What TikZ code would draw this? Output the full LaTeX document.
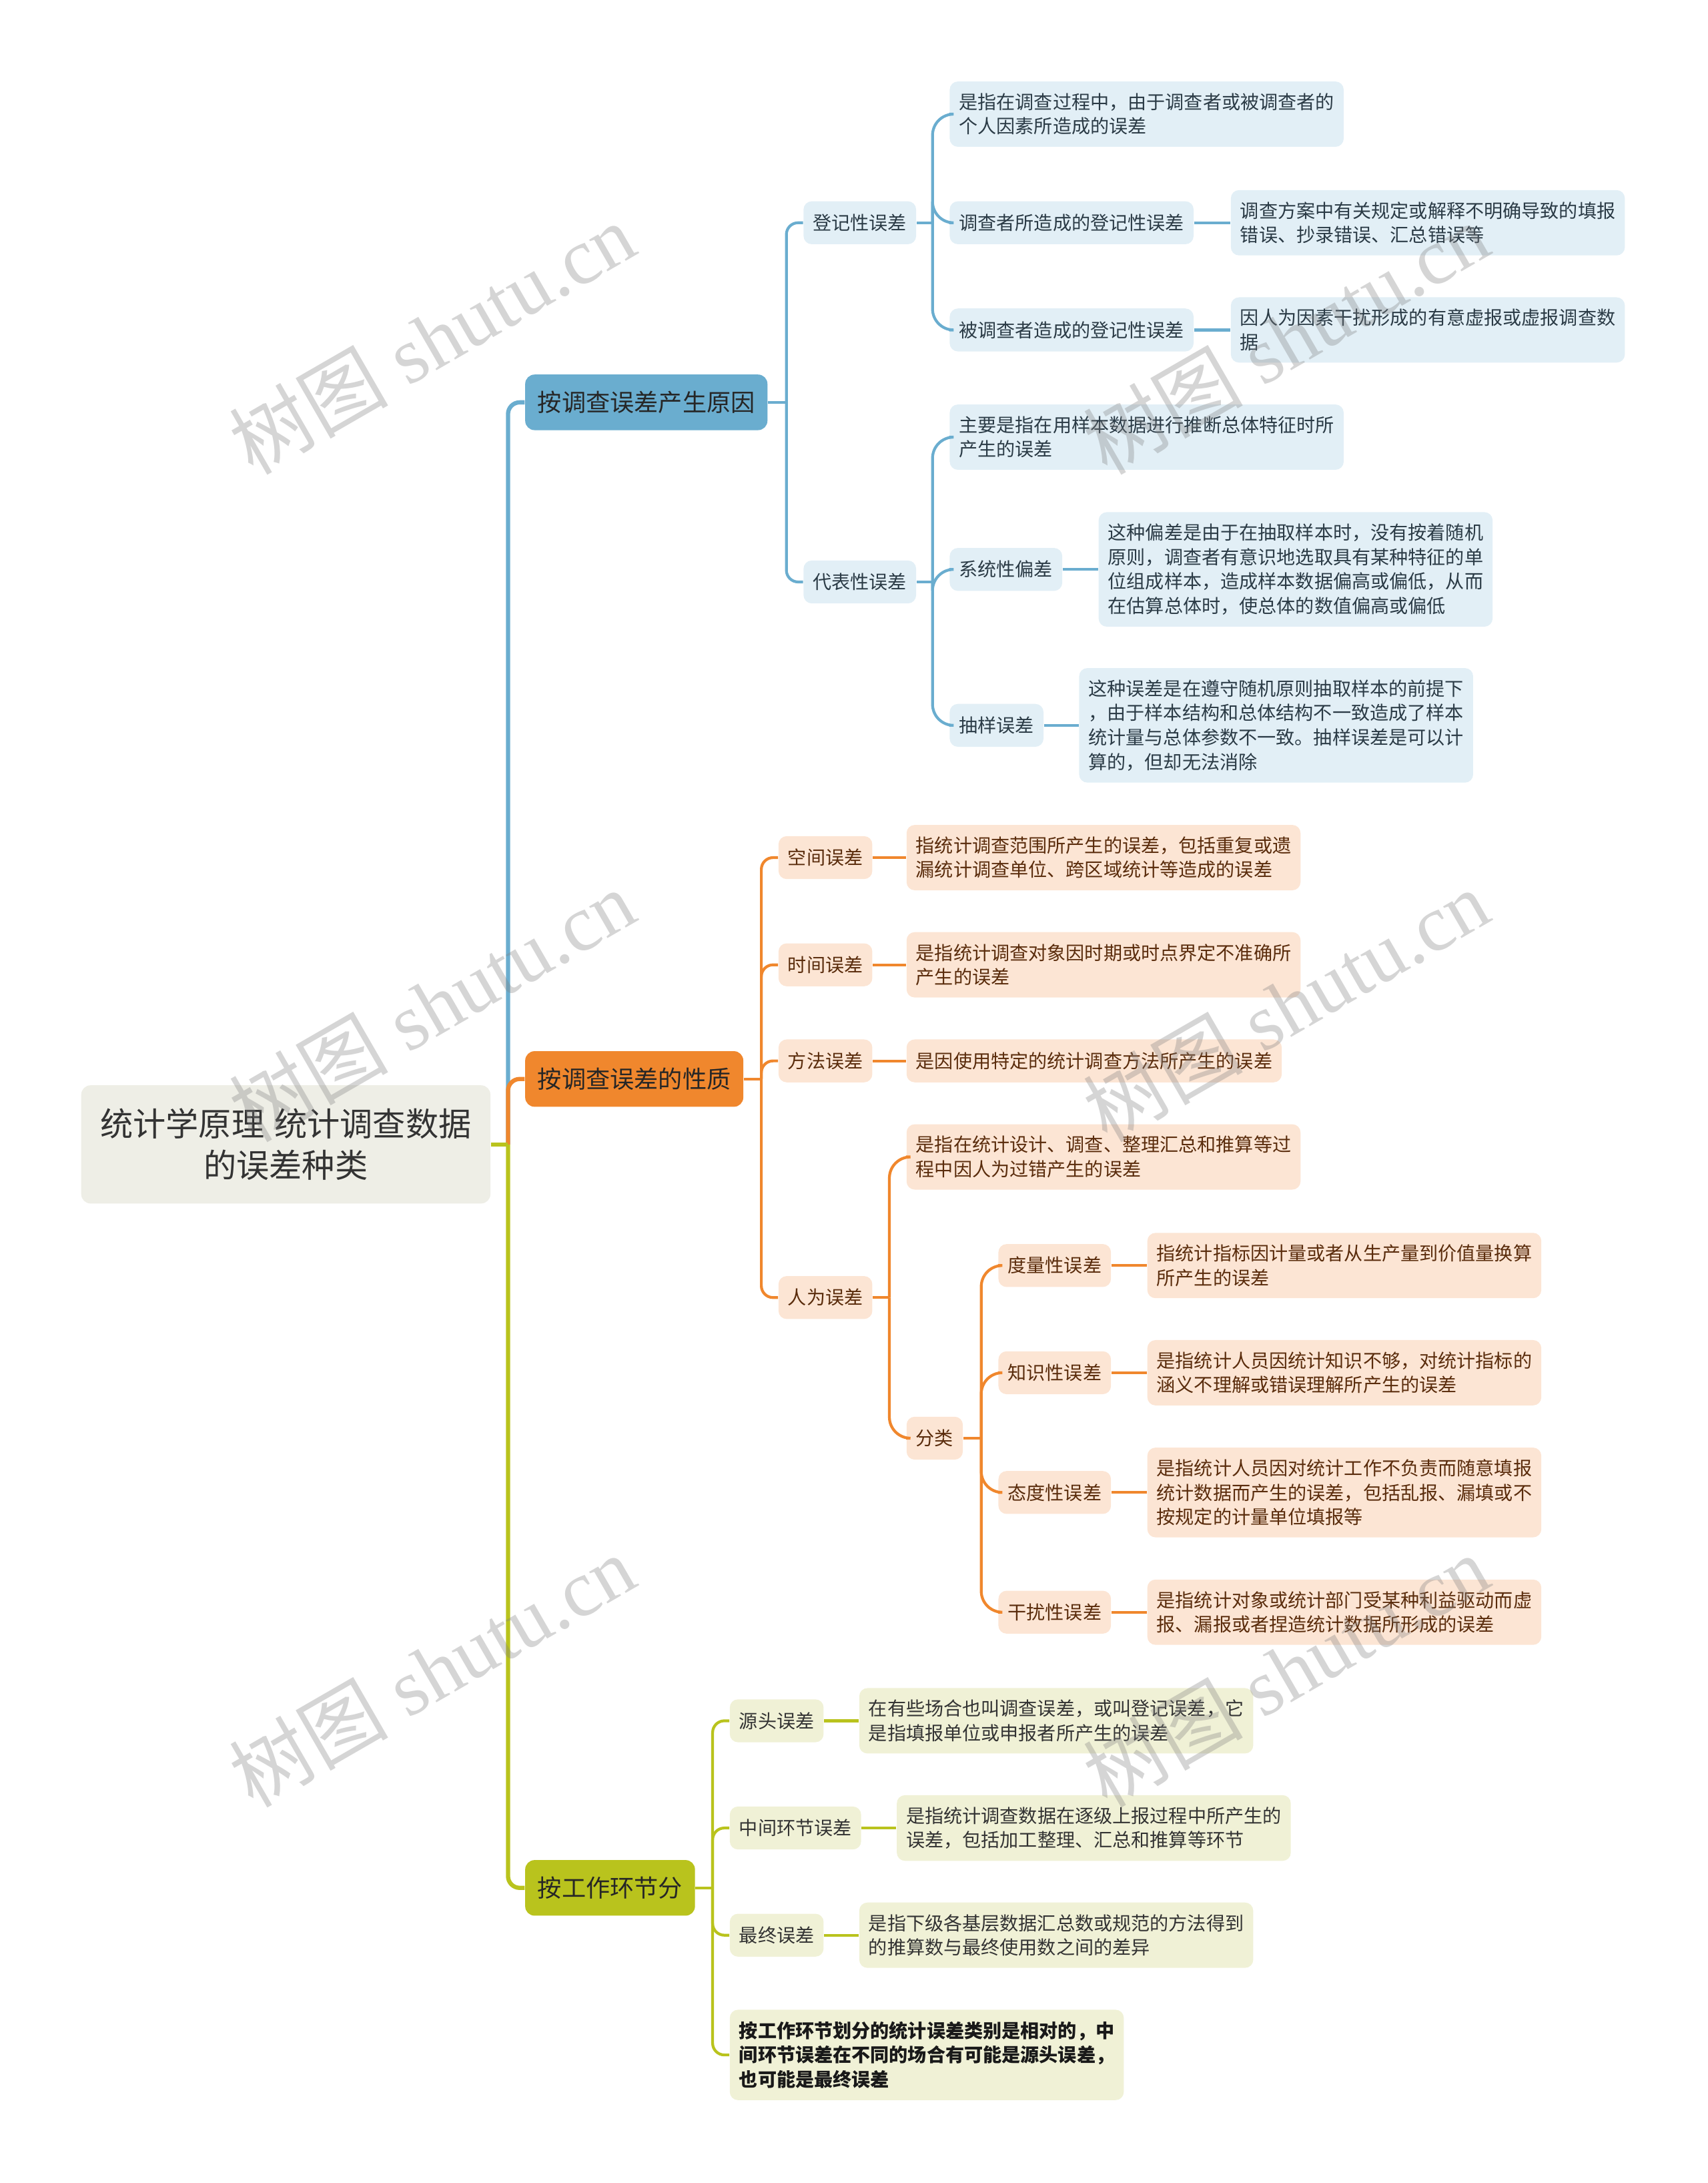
\documentclass[tikz,border=0pt]{standalone}
\usepackage{fontspec}
\newfontfamily\cjk{Noto Sans CJK SC}
\newfontfamily\wmserif{Liberation Serif}
\definecolor{bluel}{HTML}{6AADCF}
\definecolor{bluef}{HTML}{E2EFF6}
\definecolor{bluet}{HTML}{2B3B46}
\definecolor{orgl}{HTML}{F0872D}
\definecolor{orgf}{HTML}{FCE5D4}
\definecolor{orgt}{HTML}{5A2C0C}
\definecolor{ylwl}{HTML}{B9C31D}
\definecolor{ylwf}{HTML}{F0F1D6}
\definecolor{ylwt}{HTML}{333333}
\definecolor{rootf}{HTML}{EEEEE6}

\begin{document}
\begin{tikzpicture}[x=0.020864cm, y=-0.020864cm]
    \tikzstyle{every node}=[font=\cjk\fontsize{8}{10.4}\selectfont, rounded corners=3.5pt, inner xsep=4pt, inner ysep=5pt, align=left, anchor=west]
    \tikzstyle{rootbox}=[fill=rootf, text=black!80, font=\cjk\fontsize{14}{17.8}\selectfont, align=center, minimum width=174.5pt, minimum height=50.4pt, rounded corners=4pt]
    \tikzstyle{topic}=[font=\cjk\fontsize{10.3}{12}\selectfont, text=black!85, minimum height=23.7pt, inner xsep=5.3pt, rounded corners=4pt]
    \tikzstyle{leaf}=[minimum height=18.3pt]
    \tikzstyle{bnode}=[fill=bluef, text=bluet]
    \tikzstyle{onode}=[fill=orgf, text=orgt]
    \tikzstyle{ynode}=[fill=ylwf, text=ylwt]
    \tikzstyle{bline}=[draw=bluel, line width=1.2pt, rounded corners=5pt]
    \tikzstyle{oline}=[draw=orgl, line width=1.2pt, rounded corners=5pt]
    \tikzstyle{yline}=[draw=ylwl, line width=1.2pt, rounded corners=5pt]
    \tikzstyle{wmark}=[anchor=center, rotate=30, inner sep=0pt, text=black!50, text opacity=0.33, font=\wmserif\fontsize{34}{34}\selectfont]

    \useasboundingbox (0,0) rectangle (1227,1568);

    \node[rootbox] (root) at (58,822) {统计学原理\hspace{0.3em}统计调查数据\\的误差种类};
    \node[topic, fill=bluel] (cause) at (377,289) {按调查误差产生原因};
    \node[topic, fill=orgl] (nature) at (377,775) {按调查误差的性质};
    \node[topic, fill=ylwl] (stage) at (377,1356) {按工作环节分};

    \node[bnode, leaf] (reg) at (577,160) {登记性误差};
    \node[bnode, leaf] (rep) at (577,418) {代表性误差};
    \node[bnode] (reg0) at (682,82) {是指在调查过程中，由于调查者或被调查者的\\个人因素所造成的误差};
    \node[bnode, leaf] (reg1) at (682,160) {调查者所造成的登记性误差};
    \node[bnode, leaf] (reg2) at (682,237) {被调查者造成的登记性误差};
    \node[bnode] (reg1d) at (884,160) {调查方案中有关规定或解释不明确导致的填报\\错误、抄录错误、汇总错误等};
    \node[bnode] (reg2d) at (884,237) {因人为因素干扰形成的有意虚报或虚报调查数\\据};
    \node[bnode] (rep0) at (682,314) {主要是指在用样本数据进行推断总体特征时所\\产生的误差};
    \node[bnode, leaf] (rep1) at (682,409) {系统性偏差};
    \node[bnode, leaf] (rep2) at (682,521) {抽样误差};
    \node[bnode] (rep1d) at (789,409) {这种偏差是由于在抽取样本时，没有按着随机\\原则，调查者有意识地选取具有某种特征的单\\位组成样本，造成样本数据偏高或偏低，从而\\在估算总体时，使总体的数值偏高或偏低};
    \node[bnode] (rep2d) at (775,521) {这种误差是在遵守随机原则抽取样本的前提下\\，由于样本结构和总体结构不一致造成了样本\\统计量与总体参数不一致。抽样误差是可以计\\算的，但却无法消除};

    \node[onode, leaf] (space) at (559,616) {空间误差};
    \node[onode, leaf] (time) at (559,693) {时间误差};
    \node[onode, leaf] (method) at (559,762) {方法误差};
    \node[onode, leaf] (human) at (559,932) {人为误差};
    \node[onode] (spaced) at (651,616) {指统计调查范围所产生的误差，包括重复或遗\\漏统计调查单位、跨区域统计等造成的误差};
    \node[onode] (timed) at (651,693) {是指统计调查对象因时期或时点界定不准确所\\产生的误差};
    \node[onode, leaf] (methodd) at (651,762) {是因使用特定的统计调查方法所产生的误差};
    \node[onode] (humand) at (651,831) {是指在统计设计、调查、整理汇总和推算等过\\程中因人为过错产生的误差};
    \node[onode, leaf] (kind) at (651,1033) {分类};
    \node[onode, leaf] (kind1) at (717,909) {度量性误差};
    \node[onode, leaf] (kind2) at (717,986) {知识性误差};
    \node[onode, leaf] (kind3) at (717,1072) {态度性误差};
    \node[onode, leaf] (kind4) at (717,1158) {干扰性误差};
    \node[onode] (kind1d) at (824,909) {指统计指标因计量或者从生产量到价值量换算\\所产生的误差};
    \node[onode] (kind2d) at (824,986) {是指统计人员因统计知识不够，对统计指标的\\涵义不理解或错误理解所产生的误差};
    \node[onode] (kind3d) at (824,1072) {是指统计人员因对统计工作不负责而随意填报\\统计数据而产生的误差，包括乱报、漏填或不\\按规定的计量单位填报等};
    \node[onode] (kind4d) at (824,1158) {是指统计对象或统计部门受某种利益驱动而虚\\报、漏报或者捏造统计数据所形成的误差};

    \node[ynode, leaf] (src) at (524,1236) {源头误差};
    \node[ynode, leaf] (mid) at (524,1313) {中间环节误差};
    \node[ynode, leaf] (fin) at (524,1390) {最终误差};
    \node[ynode, text=black!90, font=\cjk\bfseries\fontsize{8}{10.4}\selectfont] (note) at (524,1476) {按工作环节划分的统计误差类别是相对的，中\\间环节误差在不同的场合有可能是源头误差，\\也可能是最终误差};
    \node[ynode] (srcd) at (617,1236) {在有些场合也叫调查误差，或叫登记误差，它\\是指填报单位或申报者所产生的误差};
    \node[ynode] (midd) at (644,1313) {是指统计调查数据在逐级上报过程中所产生的\\误差，包括加工整理、汇总和推算等环节};
    \node[ynode] (find) at (617,1390) {是指下级各基层数据汇总数或规范的方法得到\\的推算数与最终使用数之间的差异};

    \coordinate (jr) at (365,822);
    \coordinate (jc) at (565,289);
    \coordinate (jn) at (547,775);
    \coordinate (js) at (512,1356);
    \coordinate (jreg) at (670,160);
    \coordinate (jrep) at (670,418);
    \coordinate (jhum) at (639,932);
    \coordinate (jkind) at (705,1033);

    \draw[bline, line width=1.8pt] (jr) |- (cause.west);
    \draw[oline, line width=1.8pt] (jr) |- (nature.west);
    \draw[yline, line width=1.8pt] (jr) |- (stage.west);
    \draw[yline, line width=1.8pt] (root.east) -- (jr);

    \draw[bline] (cause.east) -- (jc);
    \foreach \c in {reg,rep} \draw[bline] (jc) |- (\c.west);
    \draw[bline] (reg.east) -- (jreg);
    \foreach \c in {reg0,reg1,reg2} \draw[bline, rounded corners=9pt] (jreg) |- (\c.west);
    \draw[bline] (rep.east) -- (jrep);
    \foreach \c in {rep0,rep1,rep2} \draw[bline, rounded corners=9pt] (jrep) |- (\c.west);
    \draw[bline] (reg1.east) -- (reg1d.west);
    \draw[bline] (reg2.east) -- (reg2d.west);
    \draw[bline] (rep1.east) -- (rep1d.west);
    \draw[bline] (rep2.east) -- (rep2d.west);

    \draw[oline] (nature.east) -- (jn);
    \foreach \c in {space,time,method,human} \draw[oline] (jn) |- (\c.west);
    \draw[oline] (space.east) -- (spaced.west);
    \draw[oline] (time.east) -- (timed.west);
    \draw[oline] (method.east) -- (methodd.west);
    \draw[oline] (human.east) -- (jhum);
    \foreach \c in {humand,kind} \draw[oline, rounded corners=9pt] (jhum) |- (\c.west);
    \draw[oline] (kind.east) -- (jkind);
    \foreach \c in {kind1,kind2,kind3,kind4} \draw[oline, rounded corners=9pt] (jkind) |- (\c.west);
    \foreach \c in {kind1,kind2,kind3,kind4} \draw[oline] (\c.east) -- (\c d.west);

    \draw[yline] (stage.east) -- (js);
    \foreach \c in {src,mid,fin,note} \draw[yline] (js) |- (\c.west);
    \draw[yline] (src.east) -- (srcd.west);
    \draw[yline] (mid.east) -- (midd.west);
    \draw[yline] (fin.east) -- (find.west);

    \foreach \p in {(310,243),(310,722),(310,1200),(924,243),(924,722),(924,1200)}
        \node[wmark] at \p {{\cjk 树图} shutu.cn};
\end{tikzpicture}
\end{document}
